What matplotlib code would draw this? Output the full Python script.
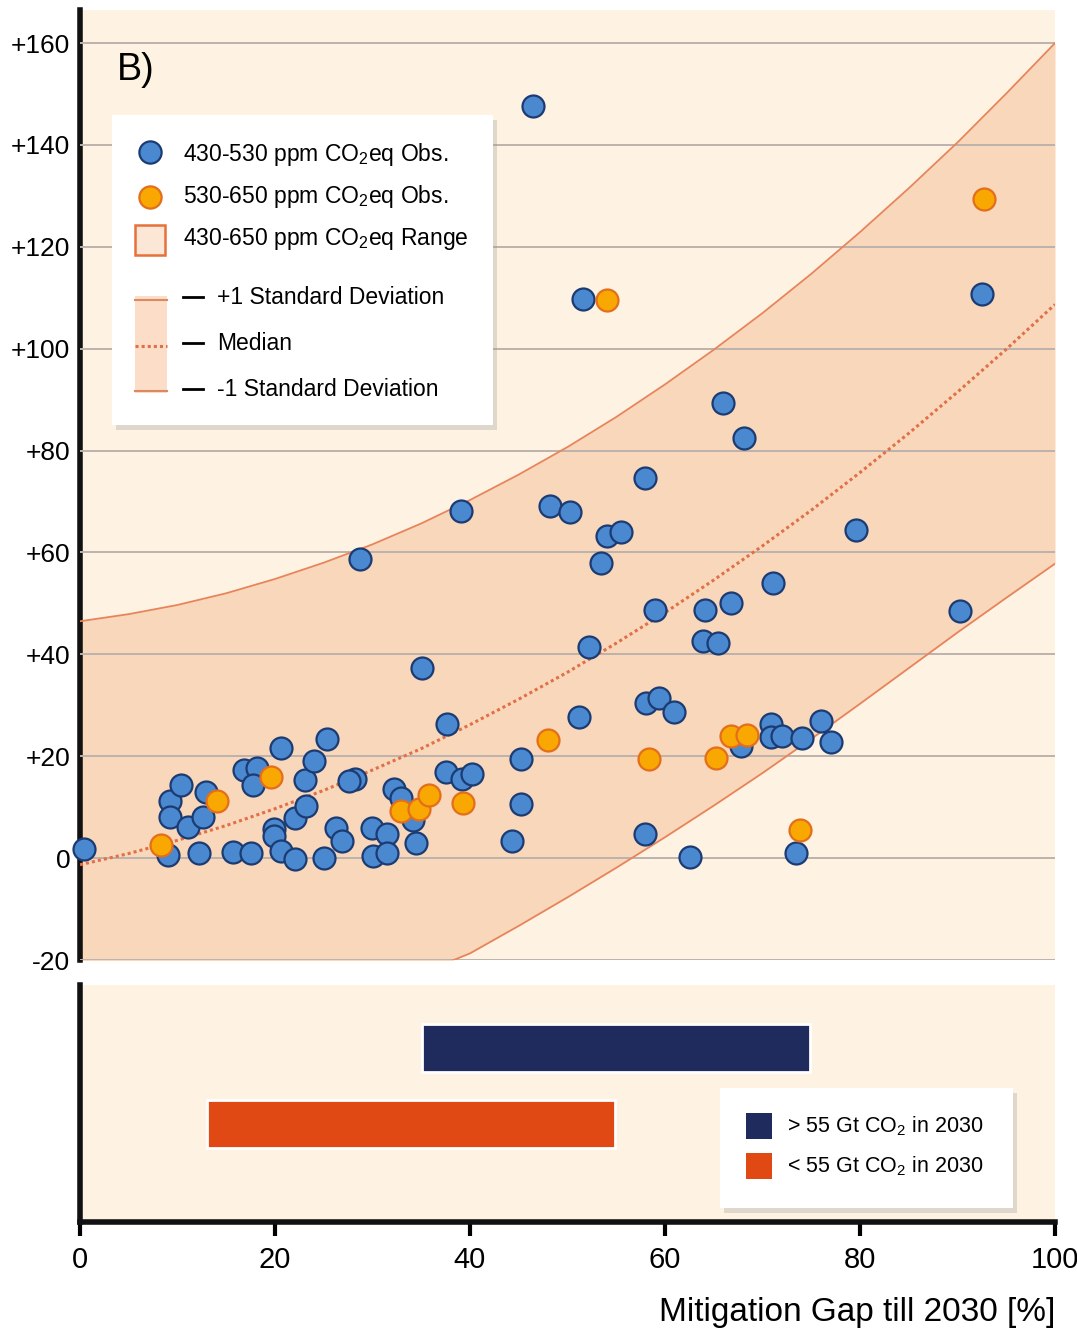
import numpy as np
import matplotlib.pyplot as plt
from matplotlib.patches import Rectangle
from matplotlib.lines import Line2D

plt.rcParams['font.family'] = ['Liberation Sans', 'DejaVu Sans']
plt.rcParams['mathtext.fontset'] = 'custom'
plt.rcParams['mathtext.rm'] = 'Liberation Sans'
plt.rcParams['mathtext.it'] = 'Liberation Sans'

# curves of the 430-650 ppm range (below -20 is hidden)
curve_x = [0, 5, 10, 15, 20, 25, 30, 35, 40, 45, 50, 55, 60, 65, 70, 75, 80, 85, 90, 95, 100]
upper_sd = [46.5, 47.9, 49.7, 52.0, 54.8, 58.0, 61.6, 65.7, 70.3, 75.3, 80.7, 86.6, 93.0,
            99.8, 107.0, 114.7, 122.9, 131.5, 140.5, 150.1, 160.0]
median = [-1.3, 0.9, 3.5, 6.4, 9.7, 13.3, 17.3, 21.5, 26.2, 31.2, 36.5, 42.2, 48.2, 54.6,
          61.3, 68.3, 75.7, 83.4, 91.5, 99.9, 108.7]
lower_sd = [-49.1, -46.0, -42.7, -39.2, -35.4, -31.4, -27.1, -22.6, -18.7, -13.3, -7.7, -1.9,
            4.1, 10.3, 16.7, 23.4, 30.3, 37.3, 44.3, 51.1, 57.8]

# 430-530 ppm observations
blue_x = [0.4, 9.0, 9.2, 9.2, 10.4, 11.1, 12.2, 12.9, 12.6, 15.7, 17.5, 16.8, 18.2, 17.7,
          20.6, 19.9, 19.9, 20.6, 22.1, 22.0, 23.2, 23.1, 24.0, 25.3, 25.0, 26.3, 26.9,
          28.2, 27.6, 29.9, 30.0, 31.5, 31.5, 32.2, 32.9, 34.2, 34.5, 37.6, 37.5, 39.2,
          40.2, 44.3, 45.2, 45.2, 35.1, 28.7, 39.1, 46.5, 51.6, 48.2, 50.3, 54.1, 55.5,
          53.4, 57.9, 52.2, 59.0, 51.2, 58.0, 59.4, 60.9, 57.9, 62.6, 65.9, 68.1, 64.1,
          66.8, 63.9, 65.4, 71.1, 67.8, 70.9, 70.9, 72.0, 74.0, 76.0, 77.0, 73.4, 79.6,
          90.3, 92.5]
blue_y = [1.8, 0.7, 11.2, 8.1, 14.3, 6.2, 1.0, 12.9, 8.1, 1.3, 1.1, 17.3, 17.6, 14.3,
          21.7, 5.7, 4.4, 1.4, -0.1, 7.8, 10.3, 15.3, 19.1, 23.3, 0.1, 6.0, 3.4,
          15.6, 15.1, 6.0, 0.5, 4.8, 1.1, 13.5, 11.9, 7.4, 3.0, 26.4, 17.0, 15.5,
          16.5, 3.3, 10.7, 19.5, 37.4, 58.8, 68.2, 147.6, 109.7, 69.1, 67.9, 63.3, 64.0,
          58.0, 74.6, 41.5, 48.8, 27.8, 30.5, 31.4, 28.6, 4.8, 0.3, 89.3, 82.5, 48.7,
          50.0, 42.6, 42.2, 54.1, 22.0, 26.4, 23.8, 24.0, 23.6, 26.9, 22.8, 1.0, 64.4,
          48.5, 110.8]

# 530-650 ppm observations
orange_x = [8.3, 14.0, 19.6, 32.9, 34.8, 35.8, 39.3, 48.0, 54.0, 58.4, 65.2, 66.8, 68.4, 73.8, 92.7]
orange_y = [2.5, 11.2, 16.0, 9.3, 9.6, 12.4, 10.8, 23.2, 109.5, 19.4, 19.6, 23.9, 24.1, 5.5, 129.4]

ytick_vals = [-20, 0, 20, 40, 60, 80, 100, 120, 140, 160]
ytick_labels = ['-20', '0', '+20', '+40', '+60', '+80', '+100', '+120', '+140', '+160']
xtick_vals = [0, 20, 40, 60, 80, 100]

# emission bars
bar_labels = ['> 55 Gt CO$_2$ in 2030', '< 55 Gt CO$_2$ in 2030']
bar_start = [35.1, 13.0]
bar_end = [74.9, 54.9]

cream = '#FEF3E2'
band = '#F9D7BA'
blue = '#4A88D0'
blue_edge = '#1B3B72'
orange = '#F8A800'
orange_edge = '#E36E1C'
navy = '#1E2B5C'
red_orange = '#E04914'

W, H = 1077, 1331
def fx(px):
    return px / W
def fy(py):
    return 1 - py / H

fig = plt.figure(figsize=(W / 100, H / 100), dpi=100)

# --- top panel ---
ax = fig.add_axes([fx(80), fy(960), fx(1055) - fx(80), fy(10) - fy(960)])
ax.set_facecolor(cream)
ax.set_xlim(0, 100)
ax.set_ylim(-20, 166.5)
ax.fill_between(curve_x, lower_sd, upper_sd, color=band, lw=0, zorder=1)
ax.set_yticks(ytick_vals)
ax.set_yticklabels(ytick_labels)
ax.yaxis.grid(True, color='#BDB3AC', lw=1.4, zorder=2)
ax.set_axisbelow(False)
ax.set_xticks([])
ax.tick_params(axis='y', length=0, pad=7, labelsize=19)
for s in ['top', 'right', 'bottom']:
    ax.spines[s].set_visible(False)
ax.spines['left'].set_linewidth(4)
ax.spines['left'].set_color('#111111')

ax.plot(curve_x, upper_sd, color='#E8845C', lw=1.3, zorder=3)
ax.plot(curve_x, lower_sd, color='#E8845C', lw=1.3, zorder=3)
ax.plot(curve_x, median, color='#E07048', lw=2.2, ls=(0, (1, 1)), zorder=3)

ax.scatter(blue_x, blue_y, s=250, c=blue, edgecolors=blue_edge, linewidths=1.6, zorder=5, clip_on=False)
ax.scatter(orange_x, orange_y, s=250, c=orange, edgecolors=orange_edge, linewidths=1.6, zorder=6, clip_on=False)

fig.text(fx(117), fy(70), 'B)', fontsize=27, va='center', ha='left')

# legend (drawn by hand)
fig.add_artist(Rectangle((fx(116), fy(430)), (493 - 112) / W, (425 - 115) / H,
                         fc='#999999', ec='none', alpha=0.3, zorder=9))
fig.add_artist(Rectangle((fx(112), fy(425)), (493 - 112) / W, (425 - 115) / H,
                         fc='white', ec='none', zorder=10))
fig.add_artist(Line2D([fx(150)], [fy(152)], marker='o', ms=16, mfc=blue, mec=blue_edge, mew=1.6, zorder=11))
fig.add_artist(Line2D([fx(150)], [fy(197)], marker='o', ms=16, mfc=orange, mec=orange_edge, mew=1.6, zorder=11))
fig.add_artist(Rectangle((fx(135), fy(255)), 30 / W, 30 / H, fc='#FCE6D6', ec='#E8703A', lw=1.8, zorder=11))
fig.add_artist(Rectangle((fx(135), fy(393)), 32 / W, 97 / H, fc='#FBDDC8', ec='none', zorder=11))
fig.add_artist(Line2D([fx(135), fx(167)], [fy(300), fy(300)], color='#D98A60', lw=1.5, zorder=12))
fig.add_artist(Line2D([fx(135), fx(167)], [fy(346), fy(346)], color='#E07048', lw=2.2, ls=(0, (1, 1)), zorder=12))
fig.add_artist(Line2D([fx(135), fx(167)], [fy(391), fy(391)], color='#D98A60', lw=1.5, zorder=12))
leg_texts = [('430-530 ppm CO$_2$eq Obs.', 155), ('530-650 ppm CO$_2$eq Obs.', 197),
             ('430-650 ppm CO$_2$eq Range', 239)]
for t, py in leg_texts:
    fig.text(fx(183), fy(py), t, fontsize=16.5, va='center', ha='left', zorder=12)
for t, py in [('+1 Standard Deviation', 297), ('Median', 343), ('-1 Standard Deviation', 389)]:
    fig.add_artist(Line2D([fx(183), fx(203)], [fy(py), fy(py)], color='black', lw=2, zorder=12))
    fig.text(fx(217), fy(py), t, fontsize=16.5, va='center', ha='left', zorder=12)

# --- bottom panel ---
ax2 = fig.add_axes([fx(80), fy(1222), fx(1055) - fx(80), fy(985) - fy(1222)])
ax2.set_facecolor(cream)
ax2.set_xlim(0, 100)
ax2.set_ylim(-1.289, 1.829)
widths = [e - s for s, e in zip(bar_start, bar_end)]
ax2.barh([1, 0], widths, left=bar_start, height=0.63, color=[navy, red_orange],
         edgecolor='white', lw=2)
ax2.set_yticks([])
ax2.set_xticks(xtick_vals)
ax2.tick_params(axis='x', length=10, width=3, pad=7, labelsize=21)
for s in ['top', 'right']:
    ax2.spines[s].set_visible(False)
ax2.spines['left'].set_linewidth(4)
ax2.spines['bottom'].set_linewidth(4)
ax2.spines['left'].set_color('#111111')
ax2.spines['bottom'].set_color('#111111')

fig.text(fx(1055), fy(1312), 'Mitigation Gap till 2030 [%]', fontsize=24, ha='right', va='center')

# bottom legend
fig.add_artist(Rectangle((fx(724), fy(1213)), (1013 - 720) / W, (1208 - 1088) / H,
                         fc='#999999', ec='none', alpha=0.3, zorder=9))
fig.add_artist(Rectangle((fx(720), fy(1208)), (1013 - 720) / W, (1208 - 1088) / H,
                         fc='white', ec='none', zorder=10))
for lab, col, py in zip(bar_labels, [navy, red_orange], [1126, 1166]):
    fig.add_artist(Rectangle((fx(746), fy(py + 13)), 26 / W, 26 / H, fc=col, ec='none', zorder=11))
    fig.text(fx(787), fy(py), lab, fontsize=15.5, va='center', ha='left', zorder=12)

fig.savefig('out.png', dpi=100, facecolor='white')
